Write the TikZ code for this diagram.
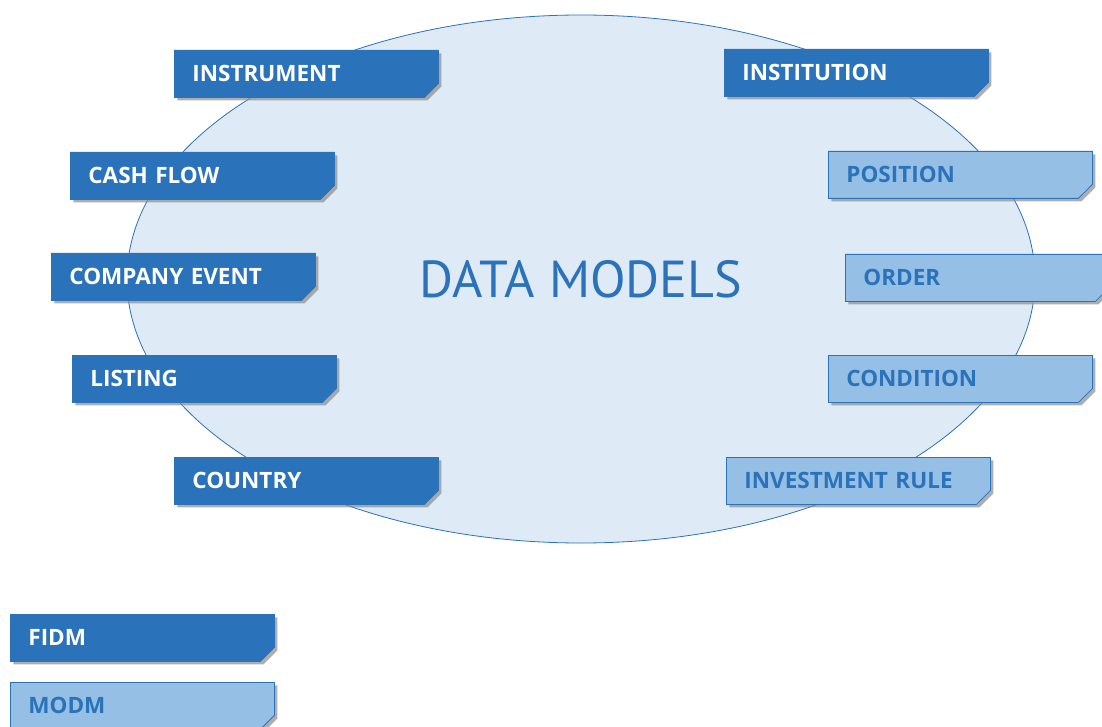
\documentclass[tikz,border=0pt]{standalone}
\usepackage{fontspec}
\setmainfont{PT Sans}
\newfontfamily\labelfont{Open Sans}
\usetikzlibrary{shapes.misc,shapes.geometric,shadows}
\definecolor{dblue}{HTML}{2A72BA}
\definecolor{lblue}{HTML}{95BFE5}
\definecolor{ellfill}{HTML}{DEEAF6}
\tikzset{
  box/.style={chamfered rectangle, chamfered rectangle corners=south east,
    chamfered rectangle xsep=7pt, chamfered rectangle ysep=7pt,
    anchor=north west, minimum width=264pt, minimum height=47pt,
    text width=228pt, inner xsep=11pt, inner ysep=0pt, align=left,
    font=\labelfont\bfseries\fontsize{22.5}{24}\selectfont,
    drop shadow={shadow xshift=3pt, shadow yshift=-3pt, fill=black!45, opacity=0.7}},
  fidm/.style={box, fill=dblue, draw=dblue, line width=0.8pt, text=white},
  modm/.style={box, fill=lblue, draw=dblue, line width=0.8pt, text=dblue},
}
\begin{document}
\begin{tikzpicture}[x=1pt,y=-1pt]
\useasboundingbox (0,0) rectangle (1102,727);
\clip (0,0) rectangle (1102,727);
\node[ellipse, draw=dblue, fill=ellfill, line width=0.8pt, minimum width=908pt, minimum height=528pt, inner sep=0pt] (ell) at (581,279) {};
\node[text=dblue, font=\fontsize{52}{60}\selectfont, inner sep=0pt] (title) at (581,279) {DATA MODELS};
\node[fidm] (instrument) at (174,50) {INSTRUMENT};
\node[fidm] (institution) at (724,49) {INSTITUTION};
\node[fidm] (cashflow) at (70,152) {CASH FLOW};
\node[modm] (position) at (828,151) {POSITION};
\node[fidm] (companyevent) at (51,253) {COMPANY EVENT};
\node[modm] (order) at (845,254) {ORDER};
\node[fidm] (listing) at (72,355) {LISTING};
\node[modm] (condition) at (828,355) {CONDITION};
\node[fidm] (country) at (174,457) {COUNTRY};
\node[modm] (investmentrule) at (726,457) {INVESTMENT RULE};
\node[fidm] (fidmkey) at (10,614) {FIDM};
\node[modm] (modmkey) at (10,682) {MODM};
\end{tikzpicture}
\end{document}
